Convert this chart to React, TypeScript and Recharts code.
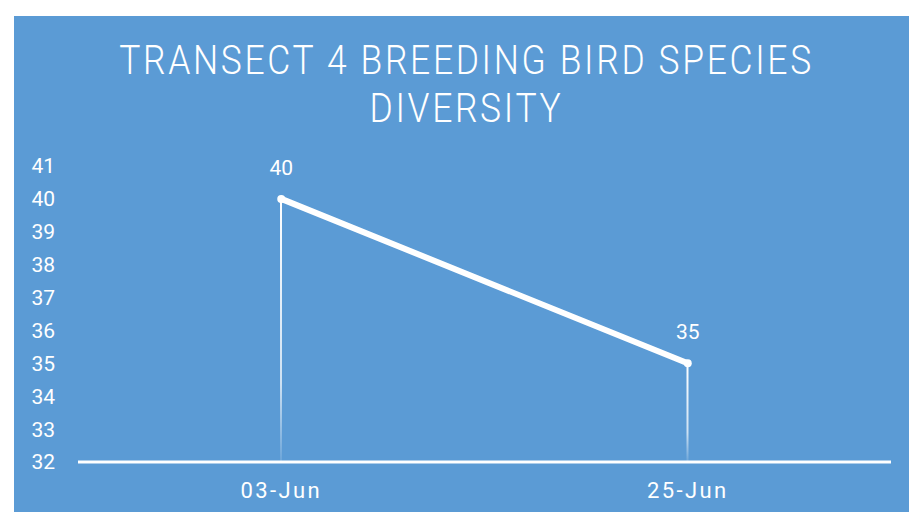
import {
  ComposedChart,
  Line,
  Bar,
  XAxis,
  YAxis,
  LabelList,
} from "recharts";

const dates = ["03-Jun", "25-Jun"];
const speciesCounts = [40, 35];
const yTicks = [32, 33, 34, 35, 36, 37, 38, 39, 40, 41];

const data = dates.map((date, i) => ({ date, species: speciesCounts[i] }));

const BG = "#5B9BD5";
const FONT = "Roboto, 'Noto Sans', sans-serif";

export default function App() {
  return (
    <div
      style={{
        position: "absolute",
        left: 14,
        top: 16,
        width: 895,
        height: 496,
        background: BG,
        fontFamily: FONT,
        overflow: "hidden",
      }}
    >
      <div
        style={{
          position: "absolute",
          left: 5,
          top: 21,
          width: 895,
          textAlign: "center",
          color: "#fff",
          fontSize: 40,
          lineHeight: "48px",
          letterSpacing: 3,
          fontWeight: 300,
          transform: "scaleX(0.886)",
          transformOrigin: "center",
        }}
      >
        TRANSECT 4 BREEDING BIRD SPECIES
        <br />
        DIVERSITY
      </div>
      <ComposedChart
        width={895}
        height={496}
        data={data}
        margin={{ top: 150, right: 18, bottom: 20, left: 24 }}
      >
        <defs>
          <linearGradient id="dropFade" x1="0" y1="0" x2="0" y2="1">
            <stop offset="0%" stopColor="#fff" stopOpacity={1} />
            <stop offset="70%" stopColor="#fff" stopOpacity={0.7} />
            <stop offset="100%" stopColor="#fff" stopOpacity={0.1} />
          </linearGradient>
        </defs>
        <XAxis
          dataKey="date"
          axisLine={{ stroke: "#fff", strokeWidth: 3 }}
          tickLine={false}
          tickSize={6}
          tickMargin={14}
          height={30}
          tick={{ fill: "#fff", fontSize: 22, letterSpacing: 2.4 }}
        />
        <YAxis
          domain={[32, 41]}
          ticks={yTicks}
          interval={0}
          axisLine={false}
          tickLine={false}
          tickSize={6}
          tickMargin={17}
          width={40}
          tick={{ fill: "#fff", fontSize: 21 }}
        />
        <Bar
          dataKey="species"
          barSize={2}
          fill="url(#dropFade)"
          isAnimationActive={false}
        />
        <Line
          type="linear"
          dataKey="species"
          stroke="#fff"
          strokeWidth={6}
          strokeLinecap="round"
          dot={{ r: 4, fill: "#fff", stroke: "none" }}
          activeDot={false}
          isAnimationActive={false}
        >
          <LabelList
            dataKey="species"
            position="top"
            offset={24}
            fill="#fff"
            fontSize={21}
          />
        </Line>
      </ComposedChart>
    </div>
  );
}
